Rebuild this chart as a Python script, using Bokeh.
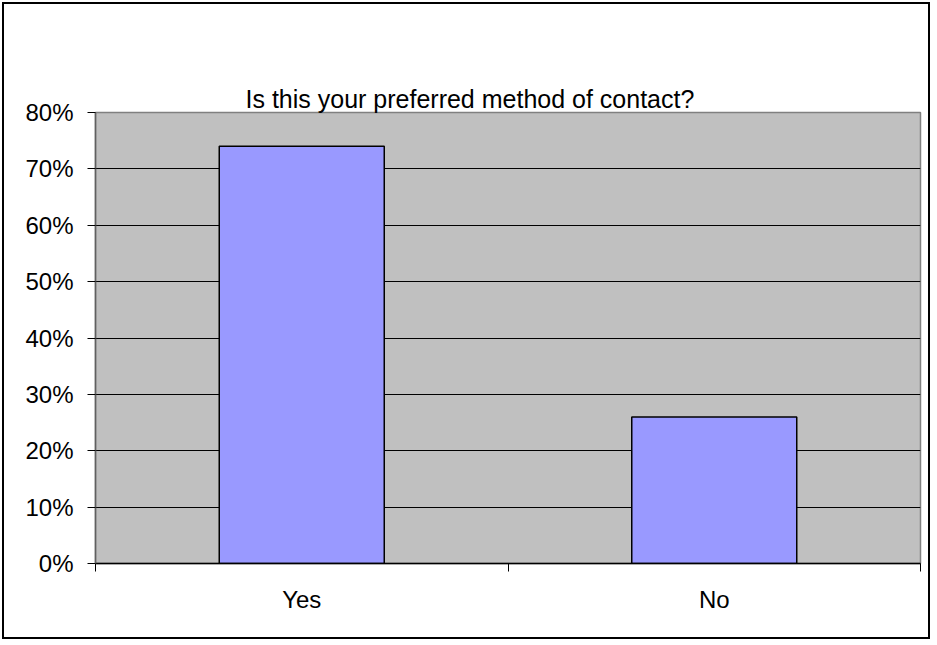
from bokeh.plotting import figure
from bokeh.models import (Range1d, LinearAxis, FixedTicker, ColumnDataSource,
                          NumeralTickFormatter, Title)
from bokeh.embed import file_html
from bokeh.resources import INLINE

# ---- data ----
title_text = "Is this your preferred method of contact?"
categories = ["Yes", "No"]
values = [0.74, 0.26]
y_ticks = [0.0, 0.1, 0.2, 0.3, 0.4, 0.5, 0.6, 0.7, 0.8]
y_grid_ticks = [0.1, 0.2, 0.3, 0.4, 0.5, 0.6, 0.7]

FONT = "Liberation Sans"
FS = "24px"

W, H = 928, 637
BL, BT, BR, BB = 91, 108, 12, 78

n = len(categories)
slot_centers = [i + 0.5 for i in range(n)]      # one slot per category
slot_edges = list(range(n + 1))

p = figure(width=W, height=H,
           x_range=Range1d(0, n),
           y_range=Range1d(y_ticks[0], y_ticks[-1]),
           x_axis_location=None,
           output_backend="svg", toolbar_location=None,
           min_border_left=BL, min_border_top=BT,
           min_border_right=BR, min_border_bottom=BB)

p.styles = {"border": "2px solid black", "margin-left": "2px", "margin-top": "2px"}
p.background_fill_color = "#C0C0C0"
p.border_fill_color = "white"
p.outline_line_color = "#808080"
p.outline_line_width = 1.5

# title on top, with an invisible spacer between it and the frame
title = Title(text=title_text, align="left", offset=150, standoff=0,
              text_font=FONT, text_font_size="25px", text_font_style="normal",
              text_color="black")
p.add_layout(title, "above")
spacer = Title(text=" ", text_font_size="2px", text_alpha=0, standoff=58)
p.add_layout(spacer, "above")

# y axis
ya = p.yaxis[0]
ya.ticker = FixedTicker(ticks=y_ticks)
ya.formatter = NumeralTickFormatter(format="0%")
ya.major_tick_out = 8
ya.major_tick_in = 0
ya.minor_tick_line_color = None
ya.major_tick_line_color = "black"
ya.axis_line_color = "#606060"
ya.axis_line_width = 1.5
ya.major_label_standoff = 14
ya.major_label_text_font = FONT
ya.major_label_text_font_size = FS
ya.major_label_text_color = "black"

p.ygrid.ticker = FixedTicker(ticks=y_grid_ticks)
p.ygrid.grid_line_color = "black"
p.ygrid.grid_line_width = 1
p.xgrid.visible = False

# x axis: labels at category centers, ticks at category boundaries
xa = LinearAxis(ticker=FixedTicker(ticks=slot_centers, minor_ticks=slot_edges),
                major_label_overrides={pos: cat for pos, cat in zip(slot_centers, categories)},
                major_tick_out=0, major_tick_in=0,
                minor_tick_out=8, minor_tick_in=0,
                minor_tick_line_color="black",
                axis_line_color="black", axis_line_width=1.5,
                major_label_standoff=14,
                major_label_text_font=FONT,
                major_label_text_font_size=FS,
                major_label_text_color="black")
p.add_layout(xa, "below")

# bars
src = ColumnDataSource(dict(x=slot_centers, top=values, cat=categories))
p.vbar(x="x", top="top", width=0.4, source=src,
       fill_color="#9999FF", line_color="black", line_width=1.5)

open("out.html", "w").write(file_html(p, INLINE))
